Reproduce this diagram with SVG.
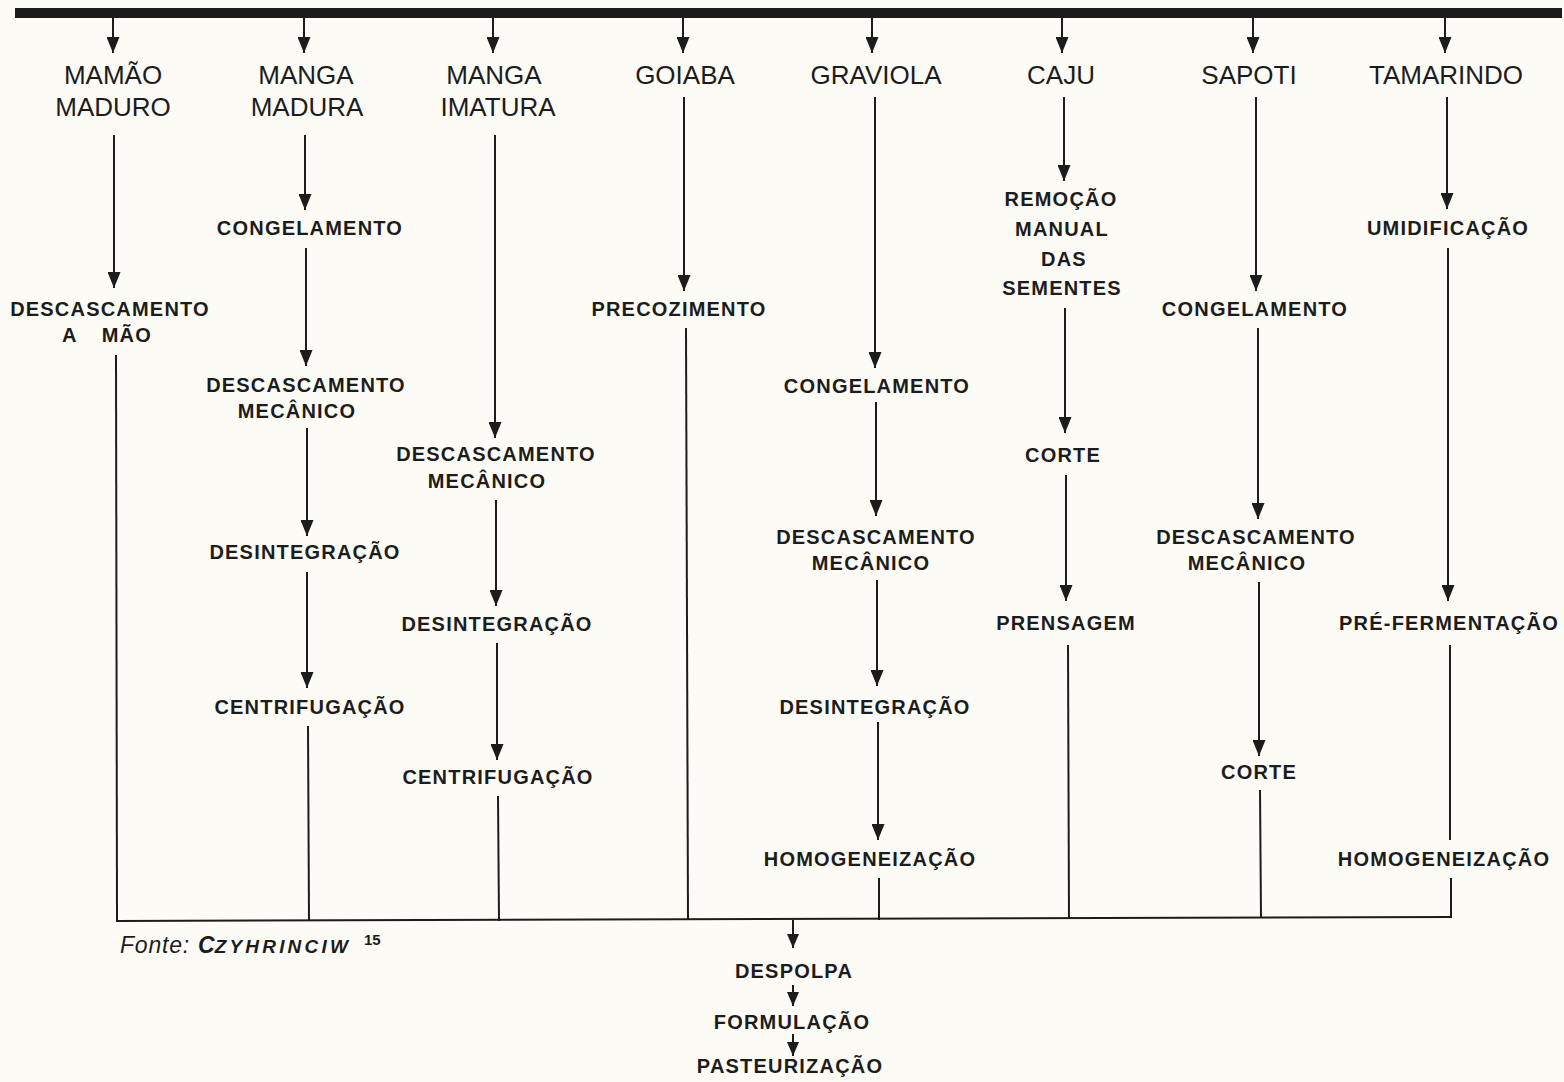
<svg xmlns="http://www.w3.org/2000/svg" width="1564" height="1082" viewBox="0 0 1564 1082">
<defs>
<marker id="ah" viewBox="0 0 16 13" refX="16" refY="6.5" markerWidth="16" markerHeight="13" markerUnits="userSpaceOnUse" orient="auto">
<path d="M0,0 L16,6.5 L0,13 z" fill="#1c1c1c"/>
</marker>
<marker id="ahs" viewBox="0 0 14 12" refX="14" refY="6" markerWidth="14" markerHeight="12" markerUnits="userSpaceOnUse" orient="auto">
<path d="M0,0 L14,6 L0,12 z" fill="#1c1c1c"/>
</marker>
<style>
.fruit{font-family:"Liberation Sans",Arial,sans-serif;font-size:26px;fill:#1c1c1c;text-anchor:middle}
.step{font-family:"Liberation Sans",Arial,sans-serif;font-size:20px;font-weight:bold;letter-spacing:1.2px;fill:#1c1c1c;text-anchor:middle}
.ln{stroke:#1c1c1c;stroke-width:2;fill:none}
.ar{stroke:#1c1c1c;stroke-width:2;fill:none;marker-end:url(#ah)}
.ars{stroke:#1c1c1c;stroke-width:2;fill:none;marker-end:url(#ahs)}
.src{font-family:"Liberation Sans",Arial,sans-serif;font-style:italic;fill:#1c1c1c}
.sup{font-family:"Liberation Sans",Arial,sans-serif;font-weight:bold;font-size:15px;fill:#1c1c1c}
</style>
</defs>
<rect width="1564" height="1082" fill="#fcfbf6"/>

<g id="top-bar">
<rect x="15" y="8" width="1547" height="10" fill="#1c1c1c"/>
</g>

<g id="connectors">
<line class="ar" x1="113" y1="18" x2="113" y2="53"/>
<line class="ar" x1="304" y1="18" x2="304" y2="53"/>
<line class="ar" x1="493" y1="18" x2="493" y2="53"/>
<line class="ar" x1="683" y1="18" x2="683" y2="53"/>
<line class="ar" x1="872" y1="18" x2="872" y2="53"/>
<line class="ar" x1="1062" y1="18" x2="1062" y2="53"/>
<line class="ar" x1="1253" y1="18" x2="1253" y2="53"/>
<line class="ar" x1="1445" y1="18" x2="1445" y2="53"/>
<line class="ar" x1="114" y1="135" x2="114" y2="288"/>
<line class="ln" x1="116" y1="355" x2="117" y2="921"/>
<line class="ar" x1="305" y1="135" x2="305" y2="210"/>
<line class="ar" x1="306" y1="248" x2="306" y2="366"/>
<line class="ar" x1="307" y1="428" x2="307" y2="536"/>
<line class="ar" x1="307" y1="572" x2="307" y2="688"/>
<line class="ln" x1="308" y1="726" x2="309" y2="921"/>
<line class="ar" x1="495" y1="135" x2="495" y2="438"/>
<line class="ar" x1="496" y1="500" x2="496" y2="606"/>
<line class="ar" x1="497" y1="643" x2="497" y2="760"/>
<line class="ln" x1="498" y1="796" x2="499" y2="921"/>
<line class="ar" x1="684" y1="97" x2="684" y2="291"/>
<line class="ln" x1="686" y1="328" x2="688" y2="920"/>
<line class="ar" x1="875" y1="97" x2="875" y2="368"/>
<line class="ar" x1="876" y1="402" x2="876" y2="516"/>
<line class="ar" x1="877" y1="580" x2="877" y2="686"/>
<line class="ar" x1="878" y1="722" x2="878" y2="840"/>
<line class="ln" x1="879" y1="878" x2="879" y2="920"/>
<line class="ar" x1="1064" y1="97" x2="1064" y2="181"/>
<line class="ar" x1="1065" y1="308" x2="1065" y2="433"/>
<line class="ar" x1="1066" y1="475" x2="1066" y2="601"/>
<line class="ln" x1="1068" y1="645" x2="1069" y2="919"/>
<line class="ar" x1="1256" y1="97" x2="1256" y2="291"/>
<line class="ar" x1="1258" y1="328" x2="1258" y2="519"/>
<line class="ar" x1="1259" y1="582" x2="1259" y2="756"/>
<line class="ln" x1="1260" y1="790" x2="1261" y2="918"/>
<line class="ar" x1="1447" y1="97" x2="1447" y2="209"/>
<line class="ar" x1="1448" y1="248" x2="1448" y2="601"/>
<line class="ln" x1="1450" y1="645" x2="1450" y2="840"/>
<line class="ln" x1="1451" y1="878" x2="1451" y2="918"/>
<line class="ln" x1="116" y1="921" x2="1452" y2="917"/>
<line class="ars" x1="793" y1="920" x2="793" y2="948"/>
<line class="ars" x1="793" y1="985" x2="793" y2="1006"/>
<line class="ars" x1="793" y1="1034" x2="793" y2="1056"/>
</g>

<g id="n-mamao"><text class="fruit" x="113" y="84">MAMÃO</text><text class="fruit" x="113" y="116">MADURO</text></g>
<g id="n-manga-madura"><text class="fruit" x="306" y="84">MANGA</text><text class="fruit" x="307" y="116">MADURA</text></g>
<g id="n-manga-imatura"><text class="fruit" x="494" y="84">MANGA</text><text class="fruit" x="498" y="116">IMATURA</text></g>
<g id="n-goiaba"><text class="fruit" x="685" y="84">GOIABA</text></g>
<g id="n-graviola"><text class="fruit" x="876" y="84">GRAVIOLA</text></g>
<g id="n-caju"><text class="fruit" x="1061" y="84">CAJU</text></g>
<g id="n-sapoti"><text class="fruit" x="1249" y="84">SAPOTI</text></g>
<g id="n-tamarindo"><text class="fruit" x="1446" y="84">TAMARINDO</text></g>

<g id="n-c1-descascamento"><text class="step" x="110" y="316">DESCASCAMENTO</text><text class="step" x="107" y="342" word-spacing="18">A MÃO</text></g>

<g id="n-c2-congelamento"><text class="step" x="310" y="235">CONGELAMENTO</text></g>
<g id="n-c2-descascamento"><text class="step" x="306" y="392">DESCASCAMENTO</text><text class="step" x="297" y="418">MECÂNICO</text></g>
<g id="n-c2-desintegracao"><text class="step" x="305" y="559">DESINTEGRAÇÃO</text></g>
<g id="n-c2-centrifugacao"><text class="step" x="310" y="714">CENTRIFUGAÇÃO</text></g>

<g id="n-c3-descascamento"><text class="step" x="496" y="461">DESCASCAMENTO</text><text class="step" x="487" y="488">MECÂNICO</text></g>
<g id="n-c3-desintegracao"><text class="step" x="497" y="631">DESINTEGRAÇÃO</text></g>
<g id="n-c3-centrifugacao"><text class="step" x="498" y="784">CENTRIFUGAÇÃO</text></g>

<g id="n-c4-precozimento"><text class="step" x="679" y="316">PRECOZIMENTO</text></g>

<g id="n-c5-congelamento"><text class="step" x="877" y="393">CONGELAMENTO</text></g>
<g id="n-c5-descascamento"><text class="step" x="876" y="544">DESCASCAMENTO</text><text class="step" x="871" y="570">MECÂNICO</text></g>
<g id="n-c5-desintegracao"><text class="step" x="875" y="714">DESINTEGRAÇÃO</text></g>
<g id="n-c5-homogeneizacao"><text class="step" x="870" y="866">HOMOGENEIZAÇÃO</text></g>

<g id="n-c6-remocao"><text class="step" x="1061" y="206">REMOÇÃO</text><text class="step" x="1062" y="236">MANUAL</text><text class="step" x="1064" y="266">DAS</text><text class="step" x="1062" y="295">SEMENTES</text></g>
<g id="n-c6-corte"><text class="step" x="1063" y="462">CORTE</text></g>
<g id="n-c6-prensagem"><text class="step" x="1066" y="630">PRENSAGEM</text></g>

<g id="n-c7-congelamento"><text class="step" x="1255" y="316">CONGELAMENTO</text></g>
<g id="n-c7-descascamento"><text class="step" x="1256" y="544">DESCASCAMENTO</text><text class="step" x="1247" y="570">MECÂNICO</text></g>
<g id="n-c7-corte"><text class="step" x="1259" y="779">CORTE</text></g>

<g id="n-c8-umidificacao"><text class="step" x="1448" y="235">UMIDIFICAÇÃO</text></g>
<g id="n-c8-prefermentacao"><text class="step" x="1449" y="630">PRÉ-FERMENTAÇÃO</text></g>
<g id="n-c8-homogeneizacao"><text class="step" x="1444" y="866">HOMOGENEIZAÇÃO</text></g>

<g id="n-despolpa"><text class="step" x="794" y="978">DESPOLPA</text></g>
<g id="n-formulacao"><text class="step" x="792" y="1029">FORMULAÇÃO</text></g>
<g id="n-pasteurizacao"><text class="step" x="790" y="1073">PASTEURIZAÇÃO</text></g>

<g id="source">
<text class="src" x="120" y="953" font-size="23" letter-spacing="0.8">Fonte:</text>
<text class="src" x="198" y="953" font-weight="bold" font-size="23">C<tspan font-size="19" letter-spacing="3.2">ZYHRINCIW</tspan></text>
<text class="sup" x="364" y="945">15</text>
</g>
</svg>
